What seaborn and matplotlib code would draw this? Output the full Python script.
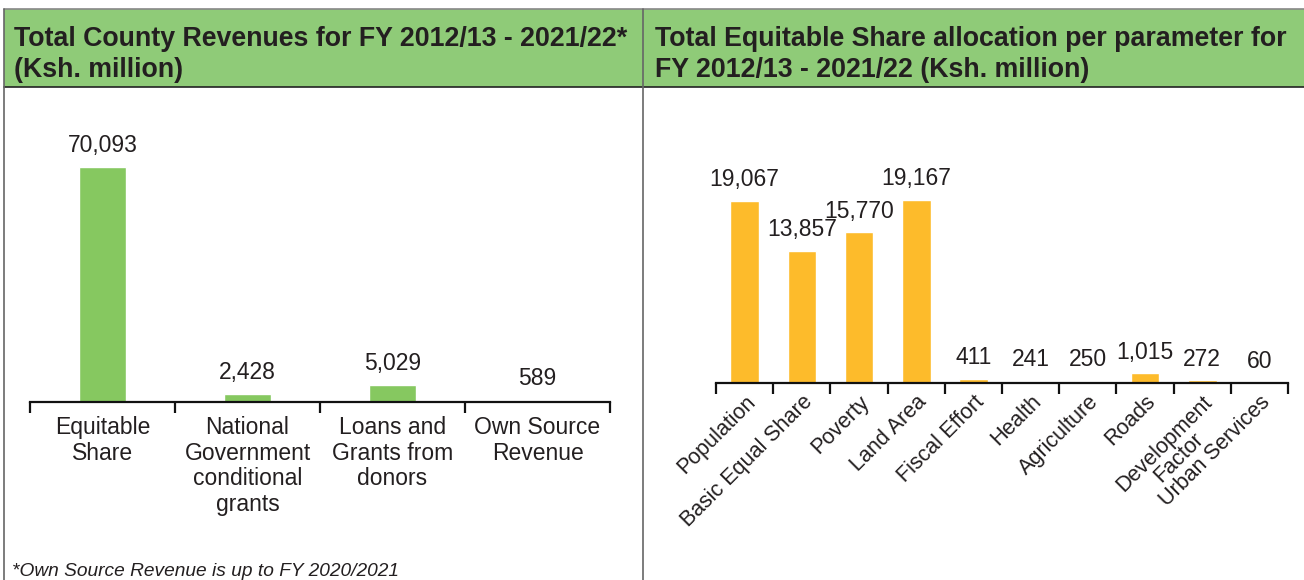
import matplotlib.pyplot as plt
import seaborn as sns
from matplotlib.patches import Rectangle
from matplotlib.lines import Line2D

# data
rev_cats = ["Equitable\nShare", "National\nGovernment\nconditional\ngrants",
            "Loans and\nGrants from\ndonors", "Own Source\nRevenue"]
rev_vals = [70093, 2428, 5029, 589]

par_cats = ["Population", "Basic Equal Share", "Poverty", "Land Area", "Fiscal Effort",
            "Health", "Agriculture", "Roads", "Development\nFactor", "Urban Services"]
par_vals = [19067, 13857, 15770, 19167, 411, 241, 250, 1015, 272, 60]

left_title = "Total County Revenues for FY 2012/13 - 2021/22*\n(Ksh. million)"
right_title = "Total Equitable Share allocation per parameter for\nFY 2012/13 - 2021/22 (Ksh. million)"
footnote = "*Own Source Revenue is up to FY 2020/2021"

sns.set_style("white")
plt.rcParams["font.family"] = ["Liberation Sans", "DejaVu Sans"]

W, H = 1304, 580
fig = plt.figure(figsize=(W / 100, H / 100), dpi=100)

def fx(px):
    return px / W

def fy(py):
    return 1 - py / H

# header band and panel borders
header_green = "#8fcb78"
fig.patches.append(Rectangle((fx(4), fy(87)), fx(1304 - 4), (87 - 9) / H,
                             transform=fig.transFigure, facecolor=header_green,
                             edgecolor="none", zorder=0))
for x0, y0, x1, y1, c, lw in [
    (4, 8.5, 1304, 8.5, "#888888", 1.2),
    (4, 87, 1304, 87, "#222222", 1.2),
    (4, 8.5, 4, 580, "#666666", 1.2),
    (643, 8.5, 643, 580, "#666666", 1.2),
]:
    fig.add_artist(Line2D([fx(x0), fx(x1)], [fy(y0), fy(y1)], color=c, lw=lw,
                          transform=fig.transFigure))

fig.text(fx(14), fy(54.5), left_title, fontsize=19.3, fontweight="bold",
         color="#231f20", va="center", ha="left", linespacing=1.25)
fig.text(fx(655), fy(54.5), right_title, fontsize=19.3, fontweight="bold",
         color="#231f20", va="center", ha="left", linespacing=1.25)
fig.text(fx(12), fy(571), footnote, fontsize=13.8, style="italic",
         color="#231f20", va="center", ha="left")


def style_axis(ax, n, size):
    sns.despine(ax=ax, left=True)
    ax.set_yticks([])
    ax.set_ylabel("")
    ax.set_xlabel("")
    ax.set_xlim(-0.5, n - 0.5)
    ax.spines["bottom"].set_linewidth(1.6)
    ax.spines["bottom"].set_color("#111111")
    ax.set_xticks([i - 0.5 for i in range(n + 1)], minor=True)
    ax.tick_params(axis="x", which="minor", length=8, width=1.6, direction="out",
                   color="#111111", bottom=True)
    ax.tick_params(axis="x", which="major", length=0, pad=10,
                   labelsize=size, labelcolor="#231f20")
    ax.patch.set_alpha(0)


# left chart
axL = fig.add_axes([fx(30), fy(402), fx(580), 90000 * 235 / 70093 / H])
sns.barplot(x=rev_cats, y=rev_vals, color="#86c860", width=0.32, saturation=1, ax=axL)
axL.set_ylim(0, 90000)
style_axis(axL, len(rev_cats), 16.5)
for lab in axL.get_xticklabels():
    lab.set_linespacing(1.15)
axL.bar_label(axL.containers[0], labels=[f"{v:,}" for v in rev_vals],
              padding=7, fontsize=16.5, color="#231f20")

# right chart
axR = fig.add_axes([fx(716), fy(383), fx(572), 25000 * 183 / 19167 / H])
sns.barplot(x=par_cats, y=par_vals, color="#fdbb2b", width=0.5, saturation=1, ax=axR)
axR.set_ylim(0, 25000)
style_axis(axR, len(par_cats), 15.5)
axR.tick_params(axis="x", which="major", pad=6)
for lab in axR.get_xticklabels():
    lab.set_rotation(45)
    lab.set_ha("right")
    lab.set_rotation_mode("anchor")
    lab.set_multialignment("center")
    lab.set_linespacing(0.95)
axR.bar_label(axR.containers[0], labels=[f"{v:,}" for v in par_vals],
              padding=7, fontsize=16.5, color="#231f20")

fig.savefig("out.png", dpi=100)
